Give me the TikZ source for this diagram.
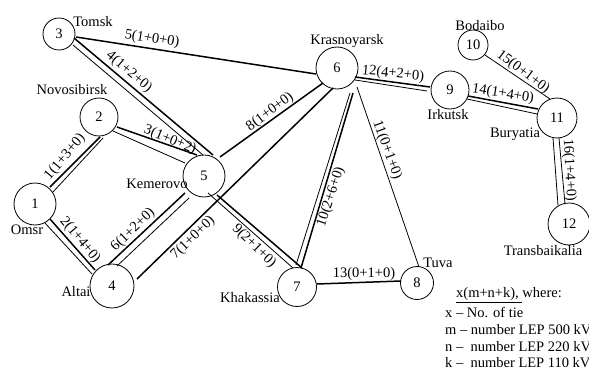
\documentclass[tikz,border=0pt]{standalone}
\usepackage{fontspec}
\setmainfont{Liberation Serif}
\usetikzlibrary{calc}
\tikzset{
  vertex/.style={draw,circle,inner sep=0pt,line width=0.8pt,font=\tiefont},
  thickln/.style={line width=1.5pt},
  thinln/.style={line width=0.8pt},
  tielabel/.style={inner sep=0pt,font=\tiefont},
  place/.style={inner sep=0pt,font=\tiefont},
  legend/.style={anchor=west,inner sep=0pt,font=\tiefont},
}
\newcommand{\tiefont}{\fontsize{14.5}{16}\selectfont}
\newcommand{\lnk}[5]{\draw[#1] ($(#2)+(#3)$) -- ($(#4)+(#5)$);}
\begin{document}
\begin{tikzpicture}[x=1pt,y=-1pt]
\useasboundingbox (0,0) rectangle (589,369);
\node[vertex,minimum size=42pt] (n1) at (35,204) {1};
\node[vertex,minimum size=38pt] (n2) at (99,117) {2};
\node[vertex,minimum size=32pt] (n3) at (59,34) {3};
\node[vertex,minimum size=44pt] (n4) at (112,286) {4};
\node[vertex,minimum size=42pt] (n5) at (204,176) {5};
\node[vertex,minimum size=42pt] (n6) at (337,68) {6};
\node[vertex,minimum size=39pt] (n7) at (297,287) {7};
\node[vertex,minimum size=33pt] (n8) at (417,283) {8};
\node[vertex,minimum size=38pt] (n9) at (450,90) {9};
\node[vertex,minimum size=30pt] (n10) at (473,45) {10};
\node[vertex,minimum size=40pt] (n11) at (557,118) {11};
\node[vertex,minimum size=42pt] (n12) at (569,224) {12};
% connectors
\lnk{thickln}{n3}{17,3}{n6}{-21,6}
\lnk{thickln}{n3}{15,4}{n5}{9,-21}
\lnk{thinln}{n3}{14,11}{n5}{-1,-21}
\lnk{thickln}{n5}{16,-19}{n6}{-14,15}
\lnk{thickln}{n4}{25,-7}{n6}{-4,20}
\lnk{thickln}{n2}{18,10}{n5}{-7,-21}
\lnk{thinln}{n2}{14,14}{n5}{-19,-13}
\lnk{thickln}{n2}{1,20}{n1}{15,-17}
\lnk{thinln}{n2}{4,21}{n1}{18,-12}
\lnk{thickln}{n1}{15,15}{n4}{-17,-16}
\lnk{thinln}{n1}{10,19}{n4}{-20,-12}
\lnk{thickln}{n5}{-19,17}{n4}{-4,-21}
\lnk{thinln}{n5}{-15,22}{n4}{5,-20}
\lnk{thickln}{n5}{13,19}{n7}{5,-19}
\lnk{thinln}{n5}{4,17}{n7}{-4,-19}
\lnk{thinln}{n6}{13,25}{n7}{-1,-22}
\lnk{thickln}{n6}{16,25}{n7}{4,-19}
\lnk{thinln}{n6}{20,19}{n8}{2,-16}
\lnk{thickln}{n6}{18,9}{n9}{-20,-3}
\lnk{thinln}{n6}{18,12}{n9}{-23,1}
\lnk{thickln}{n7}{20,-3}{n8}{-16,-2}
\lnk{thickln}{n9}{18,6}{n11}{-19,-9}
\lnk{thinln}{n9}{17,9}{n11}{-20,-4}
\lnk{thinln}{n10}{12,10}{n11}{-7,-19}
\lnk{thinln}{n11}{-4,20}{n12}{-11,-19}
\lnk{thinln}{n11}{2,20}{n12}{-4,-20}
% tie labels
\node[tielabel,rotate=-9] (t5) at (152,39) {5(1+0+0)};
\node[tielabel,rotate=-40] (t4) at (129,72) {4(1+2+0)};
\node[tielabel,rotate=-22] (t3) at (170,140) {3(1+0+2)};
\node[tielabel,rotate=50] (t1) at (65,157) {1(1+3+0)};
\node[tielabel,rotate=37] (t8) at (270,112) {8(1+0+0)};
\node[tielabel,rotate=-50] (t2) at (80,240) {2(1+4+0)};
\node[tielabel,rotate=44] (t6) at (133,230) {6(1+2+0)};
\node[tielabel,rotate=44] (t7) at (193,238) {7(1+0+0)};
\node[tielabel,rotate=-44] (t9) at (254,246) {9(2+1+0)};
\node[tielabel,rotate=72] (t10) at (331,197) {10(2+6+0)};
\node[tielabel,rotate=-70] (t11) at (387,150) {11(0+1+0)};
\node[tielabel,rotate=-6] (t12) at (393,74) {12(4+2+0)};
\node[tielabel] (t13) at (364,274) {13(0+1+0)};
\node[tielabel,rotate=-9] (t14) at (503,94) {14(1+4+0)};
\node[tielabel,rotate=-37] (t15) at (523,72) {15(0+1+0)};
\node[tielabel,rotate=-87] (t16) at (569,170) {16(1+4+0)};
% place names
\node[place] (p3) at (93,22) {Tomsk};
\node[place] (p2) at (72,90) {Novosibirsk};
\node[place] (p5) at (157,184) {Kemerovo};
\node[place] (p1) at (27,230) {Omsr};
\node[place] (p4) at (76,292) {Altai};
\node[place] (p7) at (250,298) {Khakassia};
\node[place] (p6) at (347,41) {Krasnoyarsk};
\node[place] (p10) at (480,26) {Bodaibo};
\node[place] (p9) at (448,115) {Irkutsk};
\node[place] (p11) at (515,134) {Buryatia};
\node[place] (p12) at (543,251) {Transbaikalia};
\node[place] (p8) at (438,263) {Tuva};
% legend
\node[legend] (l0) at (456,295) {\underline{x(m+n+k),\ }where:};
\node[legend] (l1) at (445,312) {x – No. of tie};
\node[legend] (l2) at (445,330) {m – number LEP 500 kV};
\node[legend] (l3) at (445,347) {n –\ \ number LEP 220 kV};
\node[legend] (l4) at (445,363) {k –\ \ number LEP 110 kV};
\end{tikzpicture}
\end{document}
